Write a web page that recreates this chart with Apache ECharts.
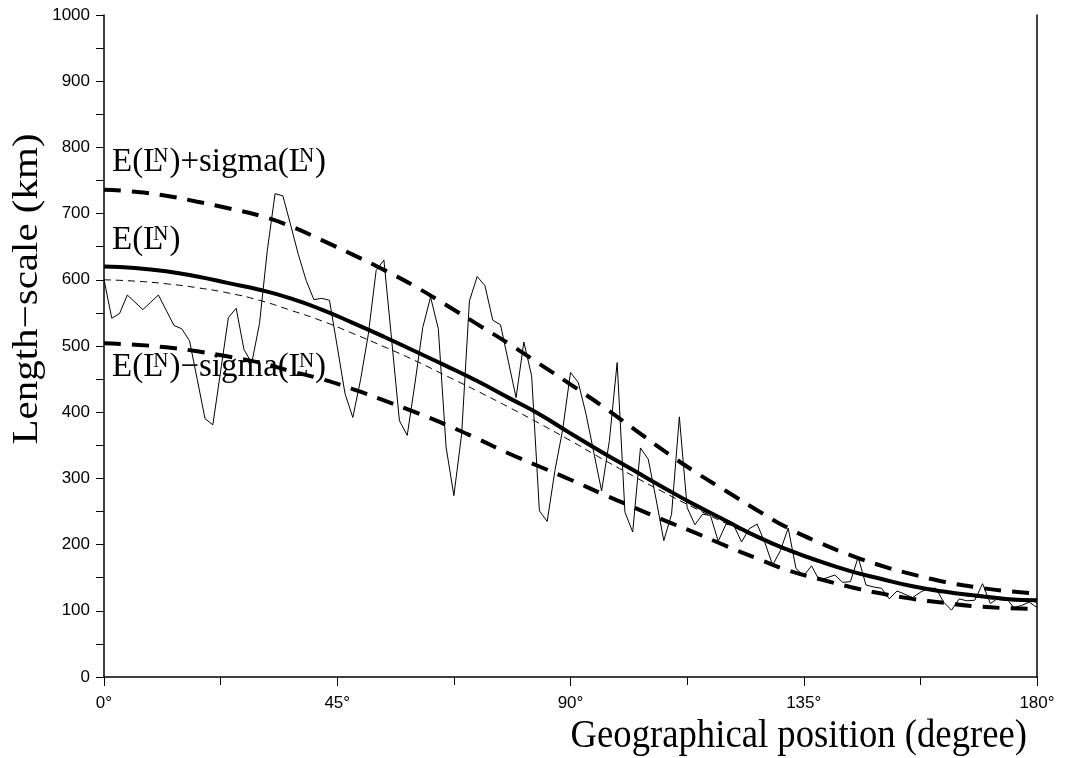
<!DOCTYPE html>
<html>
<head>
<meta charset="utf-8">
<script src="https://cdn.jsdelivr.net/npm/echarts@6/dist/echarts.min.js"></script>
<style>
  html, body { margin: 0; padding: 0; background: #fff; }
  #chart { width: 1067px; height: 758px; }
</style>
</head>
<body>
<div id="chart"></div>
<script>
// Smooth curves, sampled every 6 degrees of geographical position
const curveDeg = [0, 6, 12, 18, 24, 30, 36, 42, 48, 54, 60, 66, 72, 78, 84, 90,
  96, 102, 108, 114, 120, 126, 132, 138, 144, 150, 156, 162, 168, 174, 180];
const meanLen = [620, 618, 613, 605, 595, 585, 572, 555, 535, 514, 492, 470, 447, 422, 397, 368,
  340, 313, 286, 260, 236, 212, 192, 175, 160, 148, 137, 129, 123, 118, 116];
const meanPlusSigma = [736, 733, 727, 718, 708, 697, 681, 660, 638, 615, 590, 562, 533, 504, 473, 442,
  410, 376, 342, 310, 281, 252, 225, 203, 184, 168, 155, 144, 136, 130, 126];
const meanMinusSigma = [504, 502, 498, 492, 484, 475, 462, 450, 435, 418, 400, 381, 360, 338, 318, 298,
  277, 257, 237, 218, 198, 179, 161, 148, 136, 126, 118, 112, 107, 104, 103];
const thinRef = [600, 598, 594, 588, 580, 569, 554, 538, 519, 499, 478, 455, 432, 408, 383, 357,
  330, 304, 279, 255, 232, 210, 190, 173, 159, 147, 136, 128, 121, 116, 113];

// Single realisation, one value every 1.5 degrees from 0 to 180
const sampleStep = 1.5;
const sampleLen = [
  600, 542, 549, 577, 566, 555, 566, 577, 554, 531,
  526, 508, 449, 390, 381, 462, 543, 557, 495, 474,
  534, 644, 730, 727, 683, 638, 599, 570, 572, 569,
  499, 428, 392, 449, 518, 614, 630, 509, 387, 365,
  444, 528, 574, 526, 347, 274, 367, 568, 605, 591,
  539, 532, 477, 422, 506, 455, 251, 235, 312, 374,
  460, 445, 397, 339, 281, 357, 475, 249, 219, 346,
  329, 269, 206, 246, 393, 256, 230, 246, 244, 205,
  231, 229, 204, 224, 231, 203, 169, 191, 225, 164,
  153, 168, 146, 150, 154, 143, 144, 181, 139, 136,
  134, 118, 130, 125, 120, 128, 134, 134, 113, 101,
  118, 115, 116, 141, 111, 119, 120, 105, 108, 113,
  105
];
const sampleDeg = sampleLen.map((_, i) => i * sampleStep);

const xTickStep = 45;
const yTickStep = 100;

const serif = '"Liberation Serif", "DejaVu Serif", serif';
const sans = '"Liberation Sans", Arial, sans-serif';

const pairs = (xs, ys) => xs.map((x, i) => [x, ys[i]]);

// Text measurement for the E(L^N) labels, whose superscript sits over the L
const measureCtx = document.createElement('canvas').getContext('2d');
function textWidth(str, font) {
  measureCtx.font = font;
  return measureCtx.measureText(str).width;
}
function supLabel(parts, x0, mid, size) {
  const supSize = Math.round(size * 0.64);
  const font = size + 'px ' + serif;
  const supFont = supSize + 'px ' + serif;
  const supMid = mid - 0.36 * (size - supSize) - 1;
  const els = [];
  let x = x0;
  parts.forEach(p => {
    if (typeof p === 'string') {
      els.push({ type: 'text', x: x, y: mid, silent: true,
        style: { text: p, font: font, fill: '#000', align: 'left', verticalAlign: 'middle' } });
      x += textWidth(p, font);
    } else {
      const wb = textWidth(p[0], font);
      const ws = textWidth(p[1], supFont);
      els.push({ type: 'text', x: x, y: mid, silent: true,
        style: { text: p[0], font: font, fill: '#000', align: 'left', verticalAlign: 'middle' } });
      const sx = x + wb * 0.5;
      els.push({ type: 'text', x: sx, y: supMid, silent: true,
        style: { text: p[1], font: supFont, fill: '#000', align: 'left', verticalAlign: 'middle' } });
      x = Math.max(x + wb, sx + ws) + 1;
    }
  });
  return els;
}

const chart = echarts.init(document.getElementById('chart'), null, { renderer: 'canvas' });

const labelSize = 33;
const graphics = [].concat(
  supLabel(['E(', ['L', 'N'], ')+sigma(', ['L', 'N'], ')'], 112, 162, labelSize),
  supLabel(['E(', ['L', 'N'], ')'], 112, 240, labelSize),
  supLabel(['E(', ['L', 'N'], ')\u2212sigma(', ['L', 'N'], ')'], 112, 367, labelSize),
  [
    { type: 'text', x: 1027, y: 736, scaleX: 0.895, silent: true,
      style: { text: 'Geographical position (degree)', font: '41px ' + serif, fill: '#000',
        align: 'right', verticalAlign: 'middle' } },
    { type: 'text', x: 28, y: 289, rotation: Math.PI / 2, scaleY: 0.87, silent: true,
      style: { text: 'Length\u2212scale (km)', font: '41px ' + serif, fill: '#000',
        align: 'center', verticalAlign: 'middle' } }
  ]
);

const axisBlack = { color: '#000', width: 1.5 };

chart.setOption({
  animation: false,
  backgroundColor: '#fff',
  grid: { left: 104, right: 30, top: 15, bottom: 81 },
  xAxis: {
    type: 'value', min: 0, max: 180, interval: xTickStep,
    axisLine: { show: true, onZero: false, lineStyle: axisBlack },
    axisTick: { show: true, length: 9, lineStyle: { color: '#000', width: 1 } },
    minorTick: { show: true, splitNumber: 2, length: 8, lineStyle: { color: '#000', width: 1 } },
    splitLine: { show: false },
    minorSplitLine: { show: false },
    axisLabel: { formatter: '{value}\u00b0', color: '#000', fontSize: 17, fontFamily: sans, margin: 18 }
  },
  yAxis: [{
    type: 'value', min: 0, max: 1000, interval: yTickStep,
    axisLine: { show: true, onZero: false, lineStyle: axisBlack },
    axisTick: { show: true, length: 8, lineStyle: { color: '#000', width: 1 } },
    minorTick: { show: true, splitNumber: 2, length: 8, lineStyle: { color: '#000', width: 1 } },
    splitLine: { show: false },
    minorSplitLine: { show: false },
    axisLabel: { formatter: v => String(v), color: '#000', fontSize: 17, fontFamily: sans, margin: 14 }
  }, {
    type: 'value', min: 0, max: 1000, interval: yTickStep, position: 'right',
    axisLine: { show: true, onZero: false, lineStyle: axisBlack },
    axisTick: { show: false }, axisLabel: { show: false }, splitLine: { show: false }
  }],
  graphic: graphics,
  series: [
    {
      name: 'sample', type: 'line', data: pairs(sampleDeg, sampleLen),
      showSymbol: false, silent: true, z: 2,
      lineStyle: { color: '#000', width: 1 }
    },
    {
      name: 'reference', type: 'line', data: pairs(curveDeg, thinRef), smooth: true,
      showSymbol: false, silent: true, z: 3,
      lineStyle: { color: '#000', width: 1, type: [7, 5] }
    },
    {
      name: 'E(L^N)', type: 'line', data: pairs(curveDeg, meanLen), smooth: true,
      showSymbol: false, silent: true, z: 4,
      lineStyle: { color: '#000', width: 4 }
    },
    {
      name: 'E+sigma', type: 'line', data: pairs(curveDeg, meanPlusSigma), smooth: true,
      showSymbol: false, silent: true, z: 4,
      lineStyle: { color: '#000', width: 4, type: [17, 11] }
    },
    {
      name: 'E-sigma', type: 'line', data: pairs(curveDeg, meanMinusSigma), smooth: true,
      showSymbol: false, silent: true, z: 4,
      lineStyle: { color: '#000', width: 4, type: [17, 11] }
    }
  ]
});
</script>
</body>
</html>
